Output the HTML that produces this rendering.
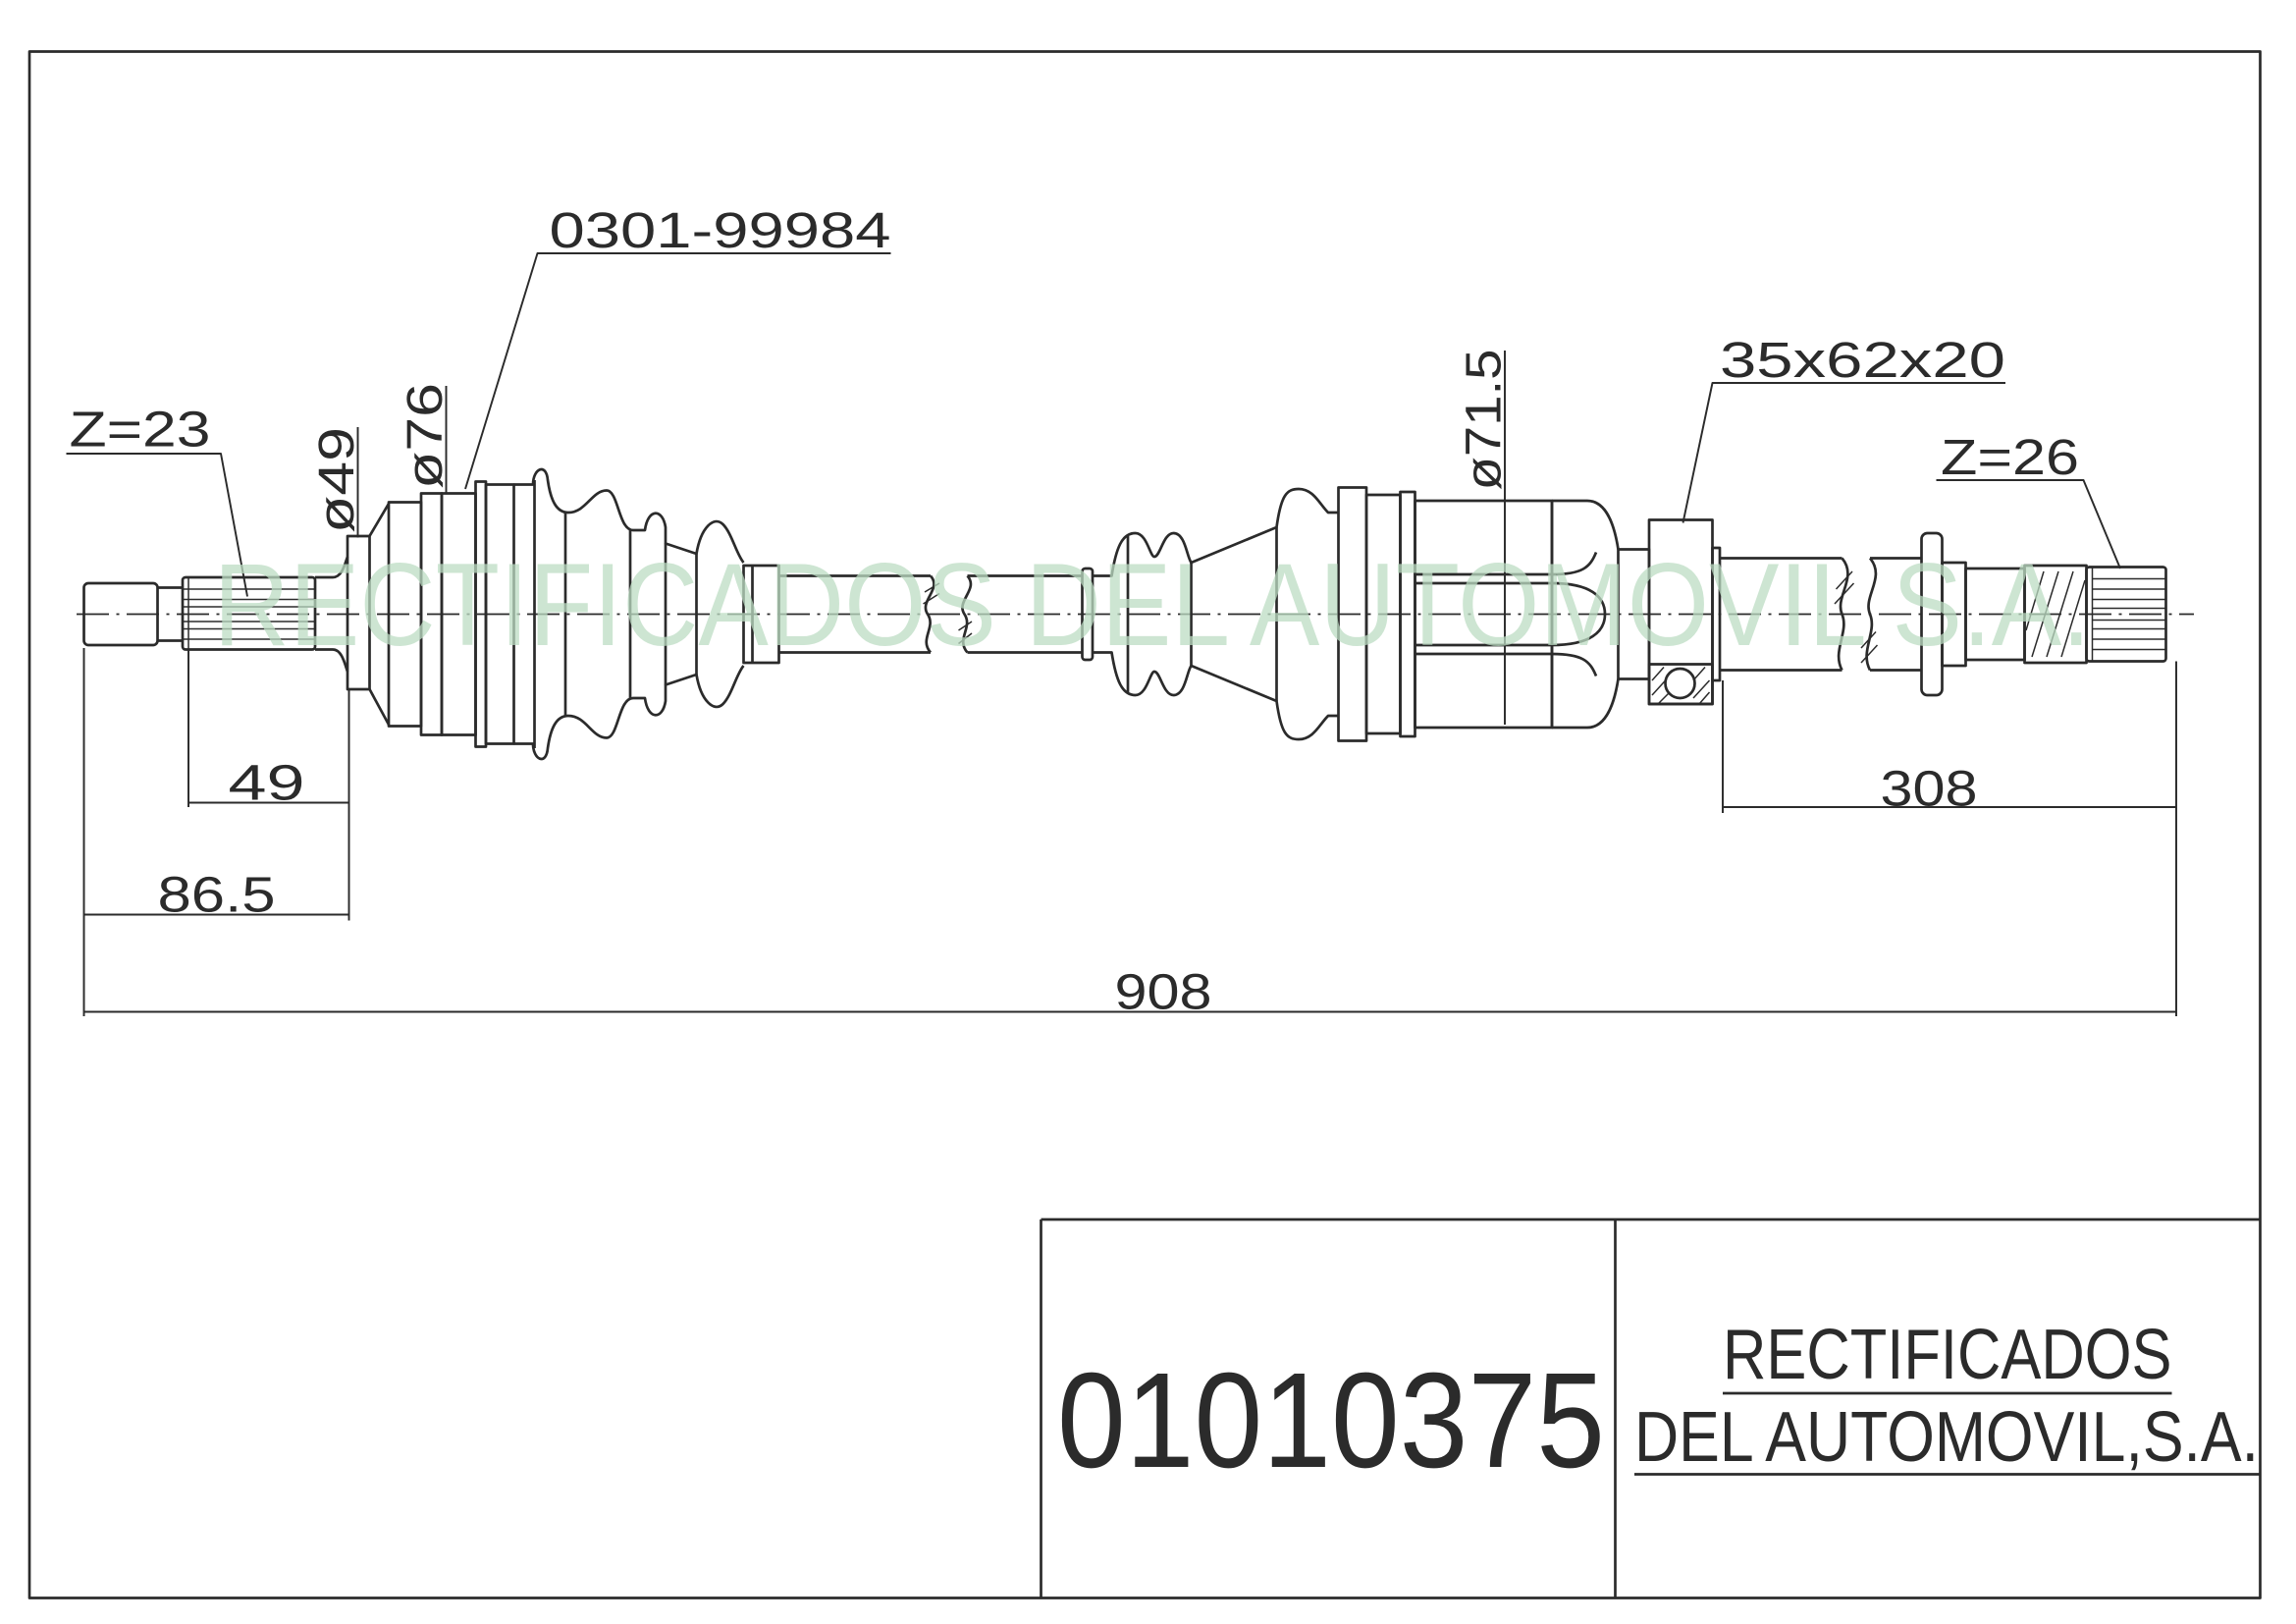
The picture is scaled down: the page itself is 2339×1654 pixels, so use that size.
<!DOCTYPE html>
<html><head><meta charset="utf-8"><style>
html,body{margin:0;padding:0;background:#fff;}
svg{display:block;}
</style></head><body>
<svg width="2339" height="1654" viewBox="0 0 1559.33 1102.67" xmlns="http://www.w3.org/2000/svg">
<rect width="1560" height="1103" fill="#fff"/>
<g fill="none" stroke="#2b2b2b" stroke-width="1.8" stroke-linejoin="round">
<!-- frame -->
<rect x="20" y="35" width="1515" height="1050"/>
<line x1="707" y1="828" x2="1535" y2="828"/>
<line x1="707" y1="828" x2="707" y2="1085"/>
<line x1="1097" y1="828" x2="1097" y2="1085"/>
<line x1="1170" y1="946" x2="1475" y2="946"/>
<line x1="1110" y1="1001" x2="1535" y2="1001"/>

<!-- centerline -->
<line x1="52" y1="417" x2="1490" y2="417" stroke-width="1.2" stroke-dasharray="22,5,2,5"/>

<!-- left stub -->
<rect x="57" y="396" width="50" height="42" rx="3"/>
<line x1="107" y1="399" x2="124" y2="399"/><line x1="107" y1="435" x2="124" y2="435"/>
<rect x="124" y="392" width="90" height="49" rx="2"/>
<g stroke-width="1">
<line x1="128" y1="392" x2="128" y2="441"/>
<line x1="124" y1="400" x2="214" y2="400"/><line x1="124" y1="407" x2="214" y2="407"/>
<line x1="124" y1="412" x2="214" y2="412"/><line x1="124" y1="422" x2="214" y2="422"/>
<line x1="124" y1="427" x2="214" y2="427"/><line x1="124" y1="434" x2="214" y2="434"/>
</g>
<path d="M214,392 L226,392 C232,392 234,384 236,378 M214,441 L226,441 C232,441 234,450 236,456"/>
<rect x="236" y="364" width="15" height="104"/>
<path d="M251,364 L264,342 M251,468 L264,492"/>
<rect x="264" y="341" width="22" height="152"/>
<rect x="286" y="335" width="14" height="164"/>
<rect x="300" y="335" width="23" height="164"/>
<rect x="323" y="327" width="7" height="180"/>
<rect x="330" y="329" width="19" height="176"/>
<line x1="363" y1="326" x2="363" y2="508"/>
<path d="M349,329 L362,329 C362,318 371,314 372,326 C374,340 378,348 386,348 C398,348 402,333 412,333 C420,333 420,360 430,360 L438,360 C440,345 450,345 452,358 L452,369 L473,376 C476,358 485,350 491,356 C497,362 500,376 505,382"/>
<path d="M349,505 L362,505 C362,516 371,520 372,508 C374,494 378,486 386,486 C398,486 402,501 412,501 C420,501 420,474 430,474 L438,474 C440,489 450,489 452,476 L452,465 L473,458 C476,476 485,484 491,478 C497,472 500,458 505,452"/>
<line x1="384" y1="348" x2="384" y2="486"/><line x1="428" y1="360" x2="428" y2="474"/>
<line x1="452" y1="369" x2="452" y2="465"/><line x1="473" y1="376" x2="473" y2="458"/>
<rect x="505" y="384" width="24" height="66"/>
<line x1="511" y1="384" x2="511" y2="450"/>
<!-- shaft left -->
<path d="M529,391 L632,391 M529,443 L632,443"/>
<path d="M632,391 C640,400 624,408 630,417 C636,426 624,434 632,443"/>
<path d="M657,391 C665,400 649,408 655,417 C661,426 649,434 657,443"/>
<path d="M657,391 L735,391 M657,443 L735,443"/>
<g stroke-width="1"><line x1="628" y1="402" x2="638" y2="396"/><line x1="627" y1="410" x2="638" y2="403"/><line x1="651" y1="428" x2="660" y2="422"/><line x1="651" y1="437" x2="660" y2="430"/></g>
<rect x="735" y="386" width="7" height="62" rx="2"/>
<!-- middle boot -->
<path d="M742,391 L755,391 C758,372 762,362 771,362 C779,362 781,378 784,378 C788,378 790,362 797,362 C805,362 806,378 809,382 L867,358 C870,336 874,332 882,332 C892,332 896,342 902,348 L909,348"/>
<path d="M742,443 L755,443 C758,462 762,472 771,472 C779,472 781,456 784,456 C788,456 790,472 797,472 C805,472 806,456 809,452 L867,476 C870,498 874,502 882,502 C892,502 896,492 902,486 L909,486"/>
<line x1="766" y1="364" x2="766" y2="470"/><line x1="809" y1="382" x2="809" y2="452"/>
<line x1="867" y1="358" x2="867" y2="476"/>
<rect x="909" y="331" width="19" height="172"/>
<rect x="928" y="336" width="23" height="162"/>
<rect x="951" y="334" width="10" height="166"/>
<rect x="961" y="340" width="93" height="154"/>
<path d="M1054,340 L1078,340 C1092,340 1097,360 1099,373 M1054,494 L1078,494 C1092,494 1097,474 1099,461"/>
<path d="M961,390 L1054,390 C1075,390 1080,385 1084,375 M961,444 L1054,444 C1075,444 1080,449 1084,459"/>
<path d="M961,396 L1054,396 C1080,396 1090,405 1090,417 C1090,429 1080,438 1054,438 L961,438"/>
<line x1="1054" y1="340" x2="1054" y2="494"/>
<rect x="1099" y="373" width="21" height="88"/>
<!-- bearing -->
<rect x="1120" y="353" width="43" height="125"/>
<rect x="1120" y="451" width="43" height="27"/>
<circle cx="1141" cy="464" r="10"/>
<g stroke-width="1"><line x1="1122" y1="462" x2="1130" y2="453"/><line x1="1122" y1="472" x2="1132" y2="461"/><line x1="1126" y1="478" x2="1134" y2="470"/><line x1="1150" y1="462" x2="1158" y2="453"/><line x1="1150" y1="474" x2="1161" y2="462"/><line x1="1154" y1="478" x2="1161" y2="470"/></g>
<rect x="1163" y="372" width="5" height="90"/>
<path d="M1168,379 L1251,379 M1168,455 L1251,455"/>
<path d="M1251,379 C1262,392 1246,405 1251,417 C1256,429 1244,442 1251,455"/>
<path d="M1270,379 C1281,392 1265,405 1270,417 C1275,429 1263,442 1270,455"/>
<path d="M1270,379 L1305,379 M1270,455 L1305,455"/>
<g stroke-width="1"><line x1="1247" y1="400" x2="1258" y2="388"/><line x1="1246" y1="410" x2="1259" y2="396"/><line x1="1264" y1="440" x2="1274" y2="429"/><line x1="1264" y1="450" x2="1275" y2="438"/></g>
<rect x="1305" y="362" width="14" height="110" rx="4"/>
<rect x="1319" y="382" width="16" height="70"/>
<rect x="1335" y="386" width="40" height="62"/>
<rect x="1375" y="384" width="42" height="66"/>
<g stroke-width="1"><line x1="1380" y1="446" x2="1398" y2="388"/><line x1="1390" y1="446" x2="1408" y2="388"/><line x1="1400" y1="446" x2="1416" y2="394"/><line x1="1376" y1="428" x2="1388" y2="388"/></g>
<rect x="1417" y="385" width="54" height="64" rx="2"/>
<g stroke-width="1">
<line x1="1421" y1="385" x2="1421" y2="449"/>
<line x1="1421" y1="393" x2="1471" y2="393"/><line x1="1421" y1="400" x2="1471" y2="400"/>
<line x1="1421" y1="407" x2="1471" y2="407"/><line x1="1421" y1="413" x2="1471" y2="413"/>
<line x1="1421" y1="421" x2="1471" y2="421"/><line x1="1421" y1="427" x2="1471" y2="427"/>
<line x1="1421" y1="434" x2="1471" y2="434"/><line x1="1421" y1="441" x2="1471" y2="441"/>
</g>

<!-- dimensions -->
<g stroke-width="1.3">
<line x1="57" y1="440" x2="57" y2="690"/>
<line x1="237" y1="468" x2="237" y2="625"/>
<line x1="128" y1="441" x2="128" y2="548"/>
<line x1="57" y1="621" x2="237" y2="621"/>
<line x1="128" y1="545" x2="237" y2="545"/>
<line x1="57" y1="687" x2="1478" y2="687"/>
<line x1="1478" y1="449" x2="1478" y2="690"/>
<line x1="1170" y1="462" x2="1170" y2="552"/>
<line x1="1170" y1="548" x2="1478" y2="548"/>
<!-- leaders -->
<path d="M45,308 L150,308 L168,405"/>
<path d="M605,172 L365,172 L316,332"/>
<path d="M1362,260 L1163,260 L1143,355"/>
<path d="M1315,326 L1415,326 L1440,386"/>
<line x1="243" y1="290" x2="243" y2="365"/>
<line x1="303" y1="262" x2="303" y2="335"/>
<line x1="1022" y1="238" x2="1022" y2="492"/>
</g>
</g>

<g font-family="Liberation Sans, sans-serif" fill="#2b2b2b">
<text x="47" y="303" font-size="34" textLength="96" lengthAdjust="spacingAndGlyphs">Z=23</text>
<text x="373" y="168" font-size="34" textLength="232" lengthAdjust="spacingAndGlyphs">0301-99984</text>
<text x="1168" y="256" font-size="34" textLength="194" lengthAdjust="spacingAndGlyphs">35x62x20</text>
<text x="1318" y="322" font-size="34" textLength="94" lengthAdjust="spacingAndGlyphs">Z=26</text>
<text transform="translate(240,362) rotate(-90)" font-size="34" textLength="72" lengthAdjust="spacingAndGlyphs">ø49</text>
<text transform="translate(300,332) rotate(-90)" font-size="34" textLength="72" lengthAdjust="spacingAndGlyphs">ø76</text>
<text transform="translate(1019,333) rotate(-90)" font-size="34" textLength="96" lengthAdjust="spacingAndGlyphs">ø71.5</text>
<text x="155" y="543" font-size="34" textLength="52" lengthAdjust="spacingAndGlyphs">49</text>
<text x="107" y="619" font-size="34" textLength="80" lengthAdjust="spacingAndGlyphs">86.5</text>
<text x="1277" y="547" font-size="34" textLength="66" lengthAdjust="spacingAndGlyphs">308</text>
<text x="757" y="685" font-size="34" textLength="66" lengthAdjust="spacingAndGlyphs">908</text>
<text x="718" y="996" font-size="92" textLength="372" lengthAdjust="spacingAndGlyphs">01010375</text>
<text x="1170" y="936" font-size="48" textLength="305" lengthAdjust="spacingAndGlyphs">RECTIFICADOS</text>
<text x="1110" y="992" font-size="48" textLength="424" lengthAdjust="spacingAndGlyphs">DEL AUTOMOVIL,S.A.</text>
</g>
<text x="145" y="438" font-family="Liberation Sans, sans-serif" font-size="80" fill="#bcdcc3" fill-opacity="0.75" textLength="1275" lengthAdjust="spacingAndGlyphs">RECTIFICADOS DEL AUTOMOVIL S.A.</text>
</svg>
</body></html>
